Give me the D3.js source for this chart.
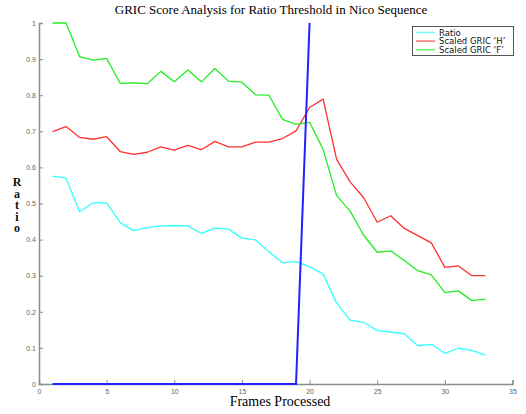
<!DOCTYPE html>
<html>
<head>
<meta charset="utf-8">
<script src="https://cdn.jsdelivr.net/npm/d3@7"></script>
<style>
  html, body { margin: 0; padding: 0; background: #fff; }
  svg { display: block; }
</style>
</head>
<body>
<svg id="chart" width="526" height="414"></svg>
<script>
const frames = d3.range(1, 34);
const ratio = [0.576,0.570,0.477,0.502,0.502,0.447,0.425,0.433,0.438,0.439,0.438,0.417,0.432,0.429,0.404,0.399,0.366,0.336,0.339,0.325,0.305,0.224,0.177,0.171,0.148,0.144,0.139,0.106,0.110,0.085,0.099,0.093,0.080];
const gricH = [0.699,0.713,0.683,0.678,0.685,0.644,0.636,0.642,0.657,0.648,0.661,0.649,0.672,0.657,0.657,0.670,0.670,0.680,0.701,0.766,0.789,0.622,0.560,0.516,0.448,0.466,0.431,0.411,0.391,0.323,0.327,0.300,0.300];
const gricF = [1.000,1.000,0.907,0.897,0.902,0.833,0.834,0.832,0.866,0.837,0.870,0.837,0.874,0.839,0.836,0.801,0.800,0.733,0.719,0.725,0.650,0.522,0.479,0.412,0.365,0.369,0.342,0.314,0.302,0.253,0.258,0.231,0.235];
const thresholdFrames = d3.range(1, 21);
const threshold = [0,0,0,0,0,0,0,0,0,0,0,0,0,0,0,0,0,0,0,1];
const xTicks = [0,5,10,15,20,25,30,35];
const yTicks = [0,0.1,0.2,0.3,0.4,0.5,0.6,0.7,0.8,0.9,1];
const legendLabels = ["Ratio", "Scaled GRIC \u2018H\u2019", "Scaled GRIC \u2018F\u2019"];
const seriesColors = ["#33ffff", "#ff3030", "#22ee22"];

const svg = d3.select("#chart");
const x = d3.scaleLinear().domain([0, 35]).range([39, 512.5]);
const y = d3.scaleLinear().domain([0, 1]).range([384, 23]);

// axes
const axisColor = "#8c8c8c";
const gx = svg.append("g").attr("transform", "translate(0,384)")
  .call(d3.axisBottom(x).tickValues(xTicks).tickSize(-4).tickPadding(4).tickFormat(d3.format("d")));
const gy = svg.append("g").attr("transform", "translate(39,0)")
  .call(d3.axisLeft(y).tickValues(yTicks).tickSize(-4).tickPadding(3).tickFormat(d => d === 0 ? "0" : d === 1 ? "1" : d3.format(".1f")(d)));
[gx, gy].forEach(g => {
  g.select(".domain").attr("stroke", axisColor).attr("stroke-width", 1.5);
  g.selectAll(".tick line").attr("stroke", axisColor);
  g.selectAll(".tick text").attr("fill", "#666").attr("font-size", 7).attr("font-family", "Liberation Sans, Arial, sans-serif");
});
gx.selectAll(".tick text").attr("dy", "0.9em");

const line = (xs, ys) => d3.line().x((d, i) => x(xs[i])).y(d => y(d))(ys);

const series = [ratio, gricH, gricF];
series.forEach((s, i) => {
  svg.append("path").attr("d", line(frames, s)).attr("fill", "none")
    .attr("stroke", seriesColors[i]).attr("stroke-width", 1.3).attr("stroke-linejoin", "round");
});
svg.append("path").attr("d", line(thresholdFrames, threshold)).attr("fill", "none")
  .attr("stroke", "#2222ff").attr("stroke-width", 2);

// title
svg.append("text").attr("x", 271).attr("y", 14).attr("text-anchor", "middle")
  .attr("font-family", "Liberation Serif, Times New Roman, serif").attr("font-size", 13)
  .text("GRIC Score Analysis for Ratio Threshold in Nico Sequence");

// x label
svg.append("text").attr("x", 280).attr("y", 406).attr("text-anchor", "middle")
  .attr("font-family", "Liberation Serif, Times New Roman, serif").attr("font-size", 14)
  .text("Frames Processed");

// y label: letters stacked vertically in a single text element
svg.append("text").attr("x", 17).attr("y", 175)
  .style("writing-mode", "vertical-rl").style("text-orientation", "upright")
  .style("letter-spacing", "-2.5px")
  .attr("font-family", "Liberation Serif, Times New Roman, serif").attr("font-size", 12)
  .attr("font-weight", "600").attr("fill", "#111")
  .text("Ratio");

// legend
const lg = svg.append("g");
lg.append("rect").attr("x", 412.5).attr("y", 26.5).attr("width", 101).attr("height", 29)
  .attr("fill", "#fff").attr("stroke", "#555").attr("stroke-width", 1);
legendLabels.forEach((t, i) => {
  const yy = 32.5 + i * 8.6;
  lg.append("line").attr("x1", 416).attr("x2", 435).attr("y1", yy).attr("y2", yy)
    .attr("stroke", seriesColors[i]).attr("stroke-width", 1.5).attr("opacity", 0.7);
  lg.append("text").attr("x", 439).attr("y", yy + 3).attr("font-size", 8.5)
    .attr("font-family", "DejaVu Sans, Verdana, sans-serif").attr("fill", "#111").text(t);
});
</script>
</body>
</html>
